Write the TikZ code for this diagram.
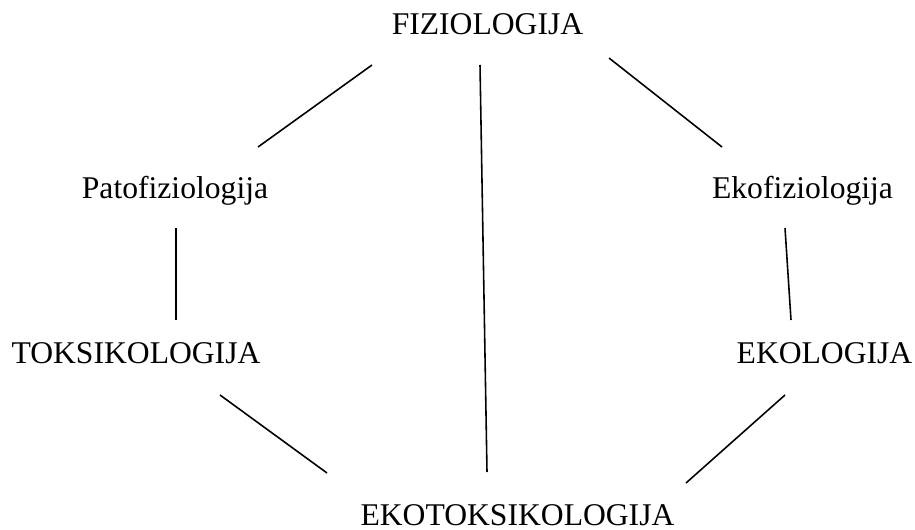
\documentclass[tikz,border=0pt]{standalone}
\usepackage{fontspec}
\setmainfont{Liberation Serif}
\begin{document}
\begin{tikzpicture}[x=0.02cm,y=-0.02cm,
  lbl/.style={inner sep=0pt,anchor=base,font=\fontsize{18}{21}\selectfont},
  link/.style={line width=0.9pt,black}]
\useasboundingbox (0,0) rectangle (915,530);
\node[lbl] (fiz) at (487.5,35) {FIZIOLOGIJA};
\node[lbl] (pato) at (175,198) {Patofiziologija};
\node[lbl] (ekof) at (802.5,198) {Ekofiziologija};
\node[lbl] (toks) at (136,363) {TOKSIKOLOGIJA};
\node[lbl] (ekol) at (824.5,363) {EKOLOGIJA};
\node[lbl] (ekot) at (517.5,525) {EKOTOKSIKOLOGIJA};
\coordinate (a1) at (372,65); \coordinate (a2) at (258,147);
\coordinate (b1) at (480,65); \coordinate (b2) at (487,472);
\coordinate (c1) at (609,58); \coordinate (c2) at (722,147);
\coordinate (d1) at (176,228); \coordinate (d2) at (176,320);
\coordinate (e1) at (785,228); \coordinate (e2) at (791,320);
\coordinate (f1) at (220,395); \coordinate (f2) at (327,473);
\coordinate (g1) at (785,395); \coordinate (g2) at (686,483);
\draw[link] (a1) -- (a2);
\draw[link] (b1) -- (b2);
\draw[link] (c1) -- (c2);
\draw[link] (d1) -- (d2);
\draw[link] (e1) -- (e2);
\draw[link] (f1) -- (f2);
\draw[link] (g1) -- (g2);
\end{tikzpicture}
\end{document}
